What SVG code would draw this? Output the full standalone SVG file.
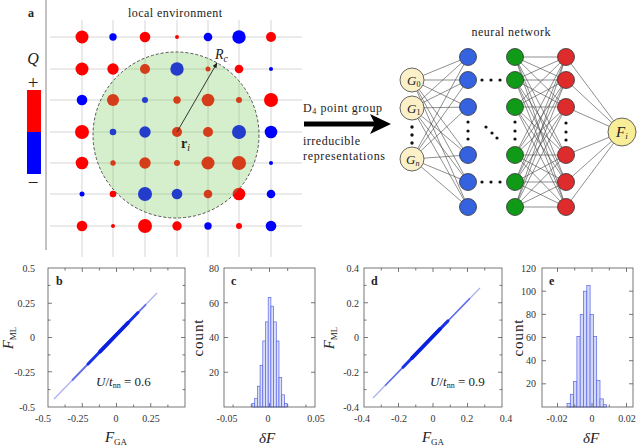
<svg xmlns="http://www.w3.org/2000/svg" width="640" height="446" viewBox="0 0 640 446">
<style>
.sf{font-family:"Liberation Serif","DejaVu Serif",serif;fill:#222}
.tk{font-family:"Liberation Serif","DejaVu Serif",serif;font-size:10px;fill:#333}
.it{font-style:italic}
.bd{font-weight:bold}
.grid{stroke:#d6d6d6;stroke-width:1;fill:none}
.r{fill:#ff0000}
.b{fill:#0000ff}
.box{fill:none;stroke:#555;stroke-width:0.8}
.tick{fill:none;stroke:#555;stroke-width:0.8}
.nn{stroke:#444;stroke-width:0.6;fill:none}
.gin{fill:#fbf0c8;stroke:#555;stroke-width:0.9}
.hb{fill:#dcdff8;stroke:#5865e8;stroke-width:0.7}
.hc{fill:#d4d8f8;stroke:#5865e8;stroke-width:0.7}
.dot{fill:#111}
</style>
<defs>
<marker id="ah" viewBox="0 0 10 10" refX="9" refY="5" markerWidth="6" markerHeight="6" orient="auto"><path d="M0 1L10 5L0 9z" fill="#222"/></marker>
</defs>
<rect width="640" height="446" fill="#fff"/>

<!-- Panel a -->
<text class="sf bd" x="28" y="17" font-size="12">a</text>
<line x1="46" y1="0" x2="46" y2="250" stroke="#9a9a9a" stroke-width="1.2"/>
<text class="sf" x="175" y="17" font-size="12" text-anchor="middle" textLength="94">local environment</text>

<g id="grid">
<path class="grid" d="M50 37H302M50 69H302M50 100H302M50 132H302M50 163H302M50 194H302M50 226H302M82 20V257M113 20V257M145 20V257M177 20V257M208 20V257M239 20V257M271 20V257"/>
</g>
<g id="sites">
<circle class="r" cx="82" cy="37" r="6.5"/><circle class="b" cx="113" cy="37" r="3.7"/><circle class="r" cx="145" cy="37" r="5.3"/><circle class="r" cx="177" cy="37" r="2"/><circle class="b" cx="208" cy="37" r="4.3"/><circle class="b" cx="239" cy="37" r="6.7"/><circle class="r" cx="271" cy="37" r="5"/>
<circle class="r" cx="82" cy="69" r="6.5"/><circle class="r" cx="113" cy="69" r="5.7"/><circle class="r" cx="145" cy="69" r="5"/><circle class="b" cx="177" cy="69" r="6.7"/><circle class="r" cx="208" cy="69" r="2.5"/><circle class="r" cx="239" cy="69" r="4.3"/><circle class="b" cx="271" cy="69" r="2"/>
<circle class="b" cx="82" cy="100" r="5.3"/><circle class="r" cx="113" cy="100" r="6"/><circle class="b" cx="145" cy="100" r="3"/><circle class="r" cx="177" cy="100" r="3.7"/><circle class="r" cx="208" cy="100" r="6.3"/><circle class="r" cx="239" cy="100" r="3"/><circle class="r" cx="271" cy="100" r="7"/>
<circle class="r" cx="82" cy="132" r="7"/><circle class="b" cx="113" cy="132" r="3.3"/><circle class="b" cx="145" cy="132" r="5.7"/><circle class="r" cx="177" cy="132" r="5"/><circle class="r" cx="208" cy="132" r="5"/><circle class="b" cx="239" cy="132" r="7"/><circle class="b" cx="271" cy="132" r="6.3"/>
<circle class="r" cx="82" cy="163" r="6.3"/><circle class="r" cx="113" cy="163" r="2.7"/><circle class="r" cx="145" cy="163" r="5.7"/><circle class="r" cx="177" cy="163" r="3"/><circle class="r" cx="208" cy="163" r="6.5"/><circle class="r" cx="239" cy="163" r="7"/><circle class="b" cx="271" cy="163" r="2"/>
<circle class="b" cx="82" cy="194" r="2.5"/><circle class="r" cx="113" cy="194" r="3.3"/><circle class="b" cx="145" cy="194" r="7"/><circle class="b" cx="177" cy="194" r="5.3"/><circle class="r" cx="208" cy="194" r="4.3"/><circle class="r" cx="239" cy="194" r="6.3"/><circle class="b" cx="271" cy="194" r="4.3"/>
<circle class="r" cx="82" cy="226" r="5.3"/><circle class="r" cx="113" cy="226" r="2"/><circle class="r" cx="145" cy="226" r="7"/><circle class="r" cx="177" cy="226" r="4.7"/><circle class="b" cx="208" cy="226" r="3.7"/><circle class="r" cx="239" cy="226" r="3"/><circle class="b" cx="271" cy="226" r="5.3"/>
</g>
<g id="cutoff">
<circle cx="176" cy="135" r="83" fill="#73c652" fill-opacity="0.3" stroke="#555" stroke-width="1" stroke-dasharray="3 2"/>
<line x1="177" y1="132" x2="217" y2="63" stroke="#222" stroke-width="0.9" marker-end="url(#ah)"/>
<text class="sf" x="215" y="59" font-size="14"><tspan class="it">R</tspan><tspan class="it" font-size="10" dy="3">c</tspan></text>
<text class="sf" x="181" y="148" font-size="14"><tspan class="bd">r</tspan><tspan class="it" font-size="10" dy="3">i</tspan></text>
</g>

<g id="colorbar">
<text class="sf it" x="33" y="64" font-size="16" text-anchor="middle">Q</text>
<text class="sf" x="33" y="89" font-size="19" text-anchor="middle">+</text>
<rect x="27" y="90" width="14" height="42" fill="#ff0000"/>
<rect x="27" y="132" width="14" height="42" fill="#0000ff"/>
<text class="sf" x="33" y="189" font-size="19" text-anchor="middle">−</text>
</g>

<!-- Arrow between -->
<g id="transform">
<text class="sf" x="303" y="112" font-size="12" textLength="79">D<tspan font-size="8" dy="2">4</tspan><tspan dy="-2"> point group</tspan></text>
<line x1="304" y1="124" x2="376" y2="124" stroke="#000" stroke-width="5"/>
<path d="M370 114L391 124L370 134L375 124Z" fill="#000"/>
<text class="sf" x="303" y="145" font-size="12" textLength="57">irreducible</text>
<text class="sf" x="303" y="160" font-size="12" textLength="82">representations</text>
</g>

<!-- Neural network -->
<text class="sf" x="511" y="36" font-size="12" text-anchor="middle" textLength="79">neural network</text>
<g id="connectors">
<path class="nn" d="M412 80L468 57M412 80L468 80M412 80L468 107M412 80L468 155M412 80L468 182M412 80L468 207M412 108L468 57M412 108L468 80M412 108L468 107M412 108L468 155M412 108L468 182M412 108L468 207M412 159L468 57M412 159L468 80M412 159L468 107M412 159L468 155M412 159L468 182M412 159L468 207"/>
<path class="nn" d="M515 57L566 57M515 57L566 80M515 57L566 107M515 57L566 155M515 57L566 182M515 57L566 207M515 80L566 57M515 80L566 80M515 80L566 107M515 80L566 155M515 80L566 182M515 80L566 207M515 107L566 57M515 107L566 80M515 107L566 107M515 107L566 155M515 107L566 182M515 107L566 207M515 155L566 57M515 155L566 80M515 155L566 107M515 155L566 155M515 155L566 182M515 155L566 207M515 182L566 57M515 182L566 80M515 182L566 107M515 182L566 155M515 182L566 182M515 182L566 207M515 207L566 57M515 207L566 80M515 207L566 107M515 207L566 155M515 207L566 182M515 207L566 207"/>
<path class="nn" d="M566 57L622 132M566 80L622 132M566 107L622 132M566 155L622 132M566 182L622 132M566 207L622 132"/>
</g>
<g id="input-G0"><circle class="gin" cx="412" cy="80" r="12"/><text class="sf" x="407" y="85" font-size="13"><tspan class="it">G</tspan><tspan font-size="8" dy="2">0</tspan></text></g>
<g id="input-G1"><circle class="gin" cx="412" cy="108" r="12"/><text class="sf" x="407" y="113" font-size="13"><tspan class="it">G</tspan><tspan font-size="8" dy="2">1</tspan></text></g>
<g id="input-Gn"><circle class="gin" cx="412" cy="159" r="12"/><text class="sf" x="406" y="164" font-size="13"><tspan class="it">G</tspan><tspan class="it" font-size="8" dy="2">n</tspan></text></g>
<g id="input-dots"><circle class="dot" cx="412" cy="127" r="1.7"/><circle class="dot" cx="412" cy="135" r="1.7"/><circle class="dot" cx="412" cy="143" r="1.7"/></g>
<g id="layer1" fill="#3563e0" stroke="#333" stroke-width="0.8">
<circle cx="468" cy="57" r="8.5"/><circle cx="468" cy="80" r="8.5"/><circle cx="468" cy="107" r="8.5"/><circle cx="468" cy="155" r="8.5"/><circle cx="468" cy="182" r="8.5"/><circle cx="468" cy="207" r="8.5"/>
</g>
<g id="layer2" fill="#109a18" stroke="#333" stroke-width="0.8">
<circle cx="515" cy="57" r="8.5"/><circle cx="515" cy="80" r="8.5"/><circle cx="515" cy="107" r="8.5"/><circle cx="515" cy="155" r="8.5"/><circle cx="515" cy="182" r="8.5"/><circle cx="515" cy="207" r="8.5"/>
</g>
<g id="layer3" fill="#de2c2c" stroke="#333" stroke-width="0.8">
<circle cx="566" cy="57" r="8.5"/><circle cx="566" cy="80" r="8.5"/><circle cx="566" cy="107" r="8.5"/><circle cx="566" cy="155" r="8.5"/><circle cx="566" cy="182" r="8.5"/><circle cx="566" cy="207" r="8.5"/>
</g>
<g id="nn-dots">
<circle class="dot" cx="482" cy="80" r="1.6"/><circle class="dot" cx="491" cy="80" r="1.6"/><circle class="dot" cx="500" cy="80" r="1.6"/>
<circle class="dot" cx="482" cy="182" r="1.6"/><circle class="dot" cx="491" cy="182" r="1.6"/><circle class="dot" cx="500" cy="182" r="1.6"/>
<circle class="dot" cx="468" cy="122" r="1.6"/><circle class="dot" cx="468" cy="131" r="1.6"/><circle class="dot" cx="468" cy="139" r="1.6"/>
<circle class="dot" cx="515" cy="122" r="1.6"/><circle class="dot" cx="515" cy="131" r="1.6"/><circle class="dot" cx="515" cy="139" r="1.6"/>
<circle class="dot" cx="566" cy="123" r="1.6"/><circle class="dot" cx="566" cy="132" r="1.6"/><circle class="dot" cx="566" cy="140" r="1.6"/>
<circle class="dot" cx="486" cy="127" r="1.6"/><circle class="dot" cx="492" cy="133" r="1.6"/><circle class="dot" cx="497" cy="138" r="1.6"/>
</g>
<g id="output-F"><circle cx="622" cy="132" r="14" fill="#f9ee98" stroke="#555" stroke-width="0.9"/><text class="sf" x="616" y="137" font-size="15"><tspan class="it">F</tspan><tspan class="it" font-size="9" dy="2">i</tspan></text></g>

<!-- Panel b -->
<g id="panel-b">
<path d="M54 399L157 293" stroke="#aab1f0" stroke-width="1.2"/>
<path d="M72 380.5L146 304.3" stroke="#6270ea" stroke-width="1.8"/>
<path d="M88 364L138 312.5" stroke="#1832e8" stroke-width="3" stroke-linecap="round"/>
<path d="M100 351.6L128 322.8" stroke="#0a1fe0" stroke-width="3.8" stroke-linecap="round"/>
<rect class="box" x="48" y="268" width="137" height="139"/>
<path class="tick" d="M82.25 407v-4M116.5 407v-4M150.75 407v-4M65.1 407v-2.5M99.4 407v-2.5M133.6 407v-2.5M167.9 407v-2.5M82.25 268v4M116.5 268v4M150.75 268v4M65.1 268v2.5M99.4 268v2.5M133.6 268v2.5M167.9 268v2.5M48 303.25h4M48 337.5h4M48 371.75h4M48 285.4h2.5M48 320.1h2.5M48 354.9h2.5M48 389.6h2.5M185 303.25h-4M185 337.5h-4M185 371.75h-4M185 285.4h-2.5M185 320.1h-2.5M185 354.9h-2.5M185 389.6h-2.5"/>
<text class="tk" x="35" y="271.5" text-anchor="end">0.5</text>
<text class="tk" x="35" y="306.5" text-anchor="end">0.25</text>
<text class="tk" x="35" y="341" text-anchor="end">0</text>
<text class="tk" x="35" y="375.5" text-anchor="end">-0.25</text>
<text class="tk" x="35" y="410.5" text-anchor="end">-0.5</text>
<text class="tk" x="43" y="422" text-anchor="middle">-0.5</text>
<text class="tk" x="78" y="422" text-anchor="middle">-0.25</text>
<text class="tk" x="116" y="422" text-anchor="middle">0</text>
<text class="tk" x="151" y="422" text-anchor="middle">0.25</text>
<text class="sf bd" x="56" y="285" font-size="12">b</text>
<text class="sf" transform="translate(13,338) rotate(-90)" font-size="15" text-anchor="middle"><tspan class="it">F</tspan><tspan font-size="9" dy="3">ML</tspan></text>
<text class="sf" x="116" y="442" font-size="15" text-anchor="middle"><tspan class="it">F</tspan><tspan font-size="9" dy="3">GA</tspan></text>
<text class="sf" x="96" y="386" font-size="13"><tspan class="it">U</tspan>/<tspan class="it">t</tspan><tspan font-size="8" dy="2">nn</tspan><tspan dy="-2"> = 0.6</tspan></text>
</g>

<!-- Panel c -->
<g id="panel-c">
<g class="hb">
<rect x="252" y="403.5" width="2.7" height="3.5"/>
<rect x="254.7" y="398.3" width="2.7" height="8.7"/>
<rect x="257.4" y="386.2" width="2.7" height="20.8"/>
<rect x="260.1" y="365.3" width="2.7" height="41.7"/>
<rect x="262.8" y="341" width="2.7" height="66"/>
<rect x="265.5" y="321.9" width="2.7" height="85.1"/>
<rect x="268.2" y="297.5" width="2.7" height="109.5"/>
<rect x="270.9" y="306.2" width="2.7" height="100.8"/>
<rect x="273.6" y="321.9" width="2.7" height="85.1"/>
<rect x="276.3" y="341" width="2.7" height="66"/>
<rect x="279" y="377.5" width="2.7" height="29.5"/>
<rect x="281.7" y="394.8" width="2.7" height="12.2"/>
<rect x="284.4" y="403.5" width="2.7" height="3.5"/>
</g>
<rect class="box" x="224" y="268" width="91" height="139"/>
<path class="tick" d="M233.1 407v-2.5M251.3 407v-3M269.5 407v-4M287.7 407v-3M305.9 407v-2.5M269.5 268v4M251.3 268v3M287.7 268v3M224 302.75h4M224 337.5h4M224 372.25h4M315 302.75h-4M315 337.5h-4M315 372.25h-4"/>
<text class="tk" x="219" y="271.5" text-anchor="end">80</text>
<text class="tk" x="219" y="306.5" text-anchor="end">60</text>
<text class="tk" x="219" y="341" text-anchor="end">40</text>
<text class="tk" x="219" y="375.5" text-anchor="end">20</text>
<text class="tk" x="227" y="422" text-anchor="middle">-0.05</text>
<text class="tk" x="268" y="422" text-anchor="middle">0</text>
<text class="tk" x="316" y="422" text-anchor="middle">0.05</text>
<text class="sf bd" x="231" y="285" font-size="12">c</text>
<text class="sf" transform="translate(203,338) rotate(-90)" font-size="15" text-anchor="middle" textLength="37">count</text>
<text class="sf it" x="267" y="443" font-size="15" text-anchor="middle">δF</text>
</g>

<!-- Panel d -->
<g id="panel-d">
<path d="M373 398L480 288" stroke="#aab1f0" stroke-width="1.2"/>
<path d="M385 385.7L470 298.3" stroke="#6270ea" stroke-width="1.6"/>
<path d="M403 367.2L448 320.9" stroke="#1832e8" stroke-width="3" stroke-linecap="round"/>
<path d="M412 358L440 329" stroke="#0a1fe0" stroke-width="3.8" stroke-linecap="round"/>
<rect class="box" x="364" y="268" width="138" height="139"/>
<path class="tick" d="M398.5 407v-4M433 407v-4M467.5 407v-4M381.25 407v-2.5M415.75 407v-2.5M450.25 407v-2.5M484.75 407v-2.5M398.5 268v4M433 268v4M467.5 268v4M381.25 268v2.5M415.75 268v2.5M450.25 268v2.5M484.75 268v2.5M364 302.75h4M364 337.5h4M364 372.25h4M364 285.4h2.5M364 320.1h2.5M364 354.9h2.5M364 389.6h2.5M502 302.75h-4M502 337.5h-4M502 372.25h-4M502 285.4h-2.5M502 320.1h-2.5M502 354.9h-2.5M502 389.6h-2.5"/>
<text class="tk" x="359" y="271.5" text-anchor="end">0.4</text>
<text class="tk" x="359" y="306.5" text-anchor="end">0.2</text>
<text class="tk" x="359" y="341" text-anchor="end">0</text>
<text class="tk" x="359" y="375.5" text-anchor="end">-0.2</text>
<text class="tk" x="359" y="410.5" text-anchor="end">-0.4</text>
<text class="tk" x="362" y="422" text-anchor="middle">-0.4</text>
<text class="tk" x="399" y="422" text-anchor="middle">-0.2</text>
<text class="tk" x="433" y="422" text-anchor="middle">0</text>
<text class="tk" x="467" y="422" text-anchor="middle">0.2</text>
<text class="tk" x="506" y="422" text-anchor="middle">0.4</text>
<text class="sf bd" x="371" y="285" font-size="12">d</text>
<text class="sf" transform="translate(334,338) rotate(-90)" font-size="15" text-anchor="middle"><tspan class="it">F</tspan><tspan font-size="9" dy="3">ML</tspan></text>
<text class="sf" x="433" y="442" font-size="15" text-anchor="middle"><tspan class="it">F</tspan><tspan font-size="9" dy="3">GA</tspan></text>
<text class="sf" x="430" y="386" font-size="13"><tspan class="it">U</tspan>/<tspan class="it">t</tspan><tspan font-size="8" dy="2">nn</tspan><tspan dy="-2"> = 0.9</tspan></text>
</g>

<!-- Panel e -->
<g id="panel-e">
<g class="hc">
<rect x="567" y="403.5" width="3.3" height="3.5"/>
<rect x="570.3" y="394.3" width="3.3" height="12.7"/>
<rect x="573.6" y="381.5" width="3.3" height="25.5"/>
<rect x="576.9" y="336.4" width="3.3" height="70.6"/>
<rect x="580.2" y="314.4" width="3.3" height="92.6"/>
<rect x="583.5" y="291.2" width="3.3" height="115.8"/>
<rect x="586.8" y="285.4" width="3.3" height="121.6"/>
<rect x="590.1" y="314.4" width="3.3" height="92.6"/>
<rect x="593.4" y="336.4" width="3.3" height="70.6"/>
<rect x="596.7" y="380.4" width="3.3" height="26.6"/>
<rect x="600" y="398.9" width="3.3" height="8.1"/>
<rect x="603.3" y="404.7" width="3.3" height="2.3"/>
</g>
<rect class="box" x="542" y="268" width="91" height="139"/>
<path class="tick" d="M557.5 407v-4M592 407v-4M626.5 407v-4M574.75 407v-2.5M609.25 407v-2.5M557.5 268v4M592 268v4M626.5 268v4M574.75 268v2.5M609.25 268v2.5M542 383.8h4M542 360.7h4M542 337.5h4M542 314.4h4M542 291.2h4M633 383.8h-4M633 360.7h-4M633 337.5h-4M633 314.4h-4M633 291.2h-4"/>
<text class="tk" x="536" y="271.5" text-anchor="end">120</text>
<text class="tk" x="536" y="294.5" text-anchor="end">100</text>
<text class="tk" x="536" y="317.5" text-anchor="end">80</text>
<text class="tk" x="536" y="341" text-anchor="end">60</text>
<text class="tk" x="536" y="364" text-anchor="end">40</text>
<text class="tk" x="536" y="387" text-anchor="end">20</text>
<text class="tk" x="557" y="422" text-anchor="middle">-0.02</text>
<text class="tk" x="592" y="422" text-anchor="middle">0</text>
<text class="tk" x="627" y="422" text-anchor="middle">0.02</text>
<text class="sf bd" x="549" y="285" font-size="12">e</text>
<text class="sf" transform="translate(523,338) rotate(-90)" font-size="15" text-anchor="middle" textLength="37">count</text>
<text class="sf it" x="591" y="443" font-size="15" text-anchor="middle">δF</text>
</g>
</svg>
